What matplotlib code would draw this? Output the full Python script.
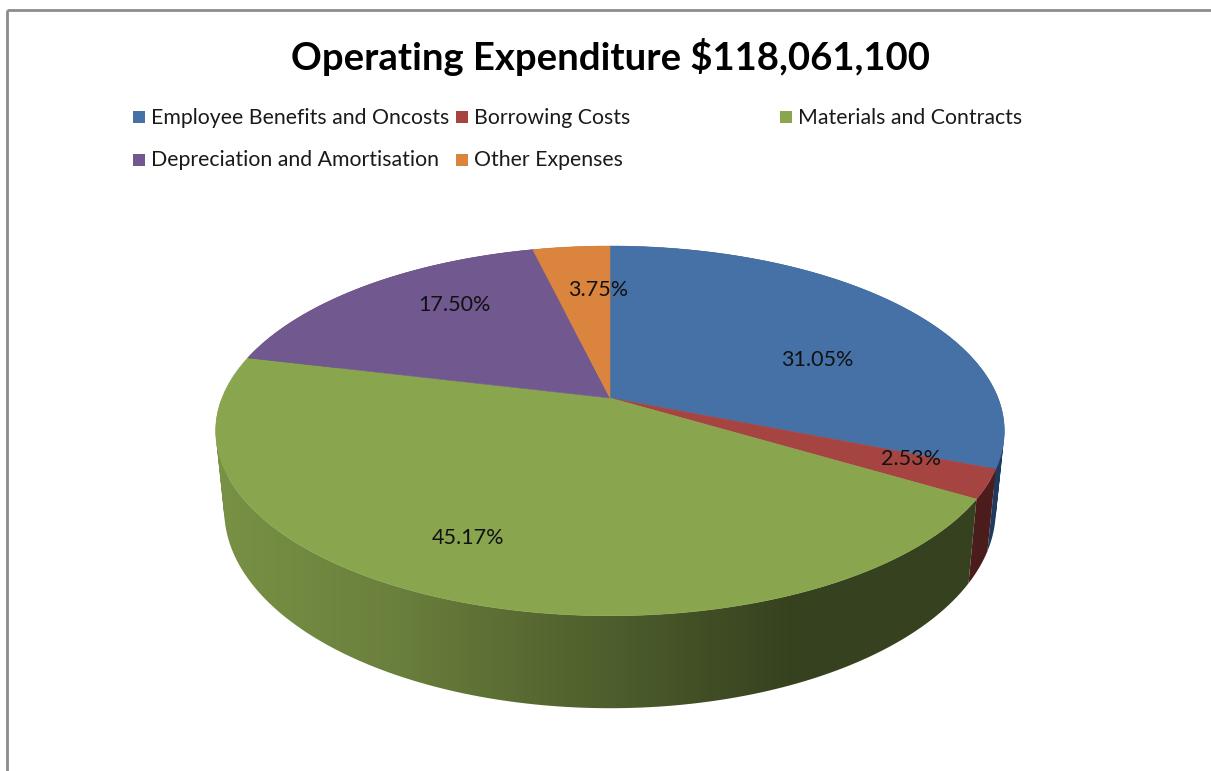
import numpy as np
import matplotlib
matplotlib.use("Agg")
import matplotlib.pyplot as plt
from matplotlib.colors import to_rgb
from matplotlib.patches import PathPatch, Polygon, Rectangle
from matplotlib.path import Path

TITLE = "Operating Expenditure $118,061,100"
categories = ["Employee Benefits and Oncosts", "Borrowing Costs", "Materials and Contracts",
              "Depreciation and Amortisation", "Other Expenses"]
values = [31.05, 2.53, 45.17, 17.50, 3.75]
colors = ["#4571A7", "#A64441", "#89A54E", "#71588F", "#DB843D"]
side_colors = ["#1F3A5E", "#4A1C1B", None, "#3C2C50", "#7A4A20"]

LABEL_XY = [(817, 360), (911, 459), (468, 538), (454, 305), (598, 290)]
LEGEND_XY = [(133, 118), (456, 118), (780, 118), (133, 161), (456, 161)]

W, H = 1211, 771
fig = plt.figure(figsize=(W / 100, H / 100), dpi=100, facecolor="white")
ax = fig.add_axes([0, 0, 1, 1])
FONT = "Lato"
K = 0.178


def top(theta):
    x, y = np.sin(theta), np.cos(theta)
    d = 1 + K * y
    return 610 + 388 * x / d, 398 - 179 * y / d


def bottom(theta):
    x, y = np.sin(theta), np.cos(theta)
    d = 1 + K * y
    return 610 + 379.6 * x / d, 475 - 191.7 * y / d


def shade(px):
    return np.interp(px, [220, 400, 500, 610, 700, 790, 1000],
                     [0.88, 0.77, 0.67, 0.57, 0.48, 0.40, 0.40])


def swept(t):
    """The wall of one slice as a union of same-orientation quads."""
    tx, ty = top(t)
    bx, by = bottom(t)
    parts = []
    for j in range(len(t) - 1):
        q = np.array([(tx[j], ty[j]), (tx[j + 1], ty[j + 1]), (bx[j + 1], by[j + 1]), (bx[j], by[j])])
        x, y = q[:, 0], q[:, 1]
        if np.dot(x, np.roll(y, -1)) - np.dot(y, np.roll(x, -1)) < 0:
            q = q[::-1]
        parts.append(Path(np.vstack([q, q[:1]]), closed=True))
    return Path.make_compound_path(*parts)


edges = np.radians(np.concatenate([[0], np.cumsum(values)]) / sum(values) * 360)

# sides first, the top surface covers whatever faces away
for i, (a, b) in enumerate(zip(edges[:-1], edges[1:])):
    path = swept(np.linspace(a, b, 160))
    if side_colors[i] is not None:
        ax.add_patch(PathPatch(path, facecolor=side_colors[i], edgecolor="none", zorder=2))
    else:
        clip = PathPatch(path, transform=ax.transData, facecolor="none", edgecolor="none")
        ax.add_patch(clip)
        xs = np.arange(200, 1011)
        base = np.array(to_rgb(colors[i]))
        grad = (base[None, None, :] * shade(xs)[None, :, None])
        im = ax.imshow(grad, extent=(200, 1010, 720, 400), aspect="auto",
                       interpolation="bilinear", zorder=2)
        im.set_clip_path(clip)

ax.set_xlim(0, W)
ax.set_ylim(H, 0)
ax.axis("off")

# top surface
for i, (a, b) in enumerate(zip(edges[:-1], edges[1:])):
    t = np.linspace(a, b, 200)
    tx, ty = top(t)
    pts = np.vstack([[610, 398], np.column_stack([tx, ty])])
    ax.add_patch(Polygon(pts, closed=True, facecolor=colors[i], edgecolor=colors[i], linewidth=0.4, zorder=3))

for v, (x, y) in zip(values, LABEL_XY):
    ax.text(x, y, f"{v:.2f}%", ha="center", va="center", fontsize=15.5, family=FONT, color="#111111", zorder=5)

ax.text(610.5, 57, TITLE, ha="center", va="center", fontsize=27.5, fontweight="bold", family=FONT, color="black")

for name, c, (x, y) in zip(categories, colors, LEGEND_XY):
    ax.add_patch(Rectangle((x, y - 7), 12, 12, facecolor=c, edgecolor="none"))
    ax.text(x + 18, y - 0.5, name, ha="left", va="center", fontsize=15.3, family=FONT, color="#1a1a1a")

# outer frame: top and left only reach the picture edges
ax.plot([6.5, W], [10, 10], color="#8c8c8c", lw=2, solid_capstyle="butt", zorder=6)
ax.plot([6.5, 6.5], [10, H], color="#8c8c8c", lw=2, solid_capstyle="butt", zorder=6)

fig.savefig("out.png", dpi=100, facecolor="white")
